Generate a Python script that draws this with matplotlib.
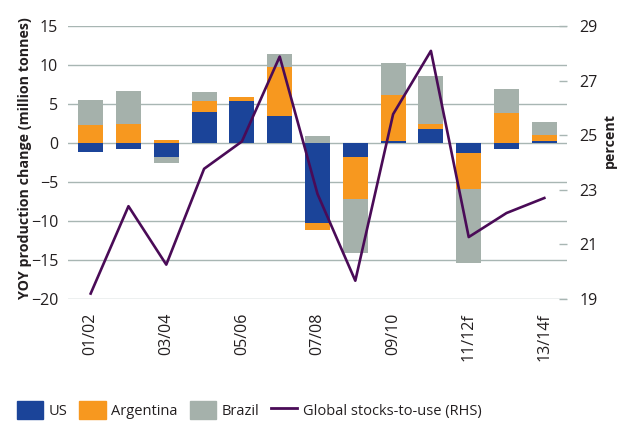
import matplotlib.pyplot as plt
from matplotlib.patches import Patch
from matplotlib.lines import Line2D
import numpy as np

plt.rcParams['font.family'] = ['Open Sans', 'DejaVu Sans']

seasons = ["01/02", "02/03", "03/04", "04/05", "05/06", "06/07", "07/08",
           "08/09", "09/10", "10/11", "11/12f", "12/13f", "13/14f"]
us = [-1.1, -0.8, -1.75, 4.0, 5.4, 3.45, -10.2, -1.85, 0.3, 1.75, -1.25, -0.8, 0.3]
argentina = [2.3, 2.5, 0.4, 1.4, 0.5, 6.3, -0.95, -5.3, 5.8, 0.65, -4.6, 3.8, 0.7]
brazil = [3.25, 4.2, -0.85, 1.2, -0.15, 1.7, 0.95, -7.0, 4.2, 6.25, -9.5, 3.1, 1.75]
stocks_to_use = [19.2, 22.4, 20.26, 23.77, 24.77, 27.88, 22.85, 19.67, 25.77, 28.09, 21.27, 22.15, 22.7]

c_us = "#1b4499"
c_arg = "#f7981f"
c_bra = "#a5b1ab"
c_line = "#4a0b57"
c_grid = "#a8b6b3"

fig = plt.figure(figsize=(6.22, 4.23), dpi=100)
ax = fig.add_axes([0.1093, 0.2931, 0.8023, 0.6454])
ax2 = ax.twinx()

x = np.arange(len(seasons))
pos_base = np.zeros(len(seasons))
neg_base = np.zeros(len(seasons))
for vals, col in [(us, c_us), (argentina, c_arg), (brazil, c_bra)]:
    vals = np.array(vals)
    base = np.where(vals >= 0, pos_base, neg_base)
    ax.bar(x, vals, width=0.66, bottom=base, color=col, zorder=3)
    pos_base = pos_base + np.where(vals >= 0, vals, 0)
    neg_base = neg_base + np.where(vals < 0, vals, 0)

ax2.plot(x, stocks_to_use, color=c_line, lw=1.9, zorder=5)

ax.set_xlim(-0.6, 12.6)
ax.set_ylim(-20, 15)
ax.set_yticks(range(-20, 16, 5))
ax.yaxis.grid(True, color=c_grid, lw=1)
ax.set_axisbelow(True)
ax.set_xticks(x[::2])
ax.set_xticklabels(seasons[::2], rotation=90, fontsize=11.5, color="#231f20")
ax.tick_params(axis='x', length=0, pad=10)
ax.tick_params(axis='y', length=0, pad=7, labelsize=11.5, labelcolor="#231f20")
ax.set_ylabel("YOY production change (million tonnes)", fontsize=10.3,
              fontweight='bold', color="#231f20")
ax.yaxis.set_label_coords(-0.072, 0.515)

ax2.set_ylim(19, 29)
ax2.set_yticks(range(19, 30, 2))
ax2.tick_params(axis='y', direction='in', length=6, width=1, color=c_grid,
                pad=9, labelsize=11.5, labelcolor="#231f20")
ax2.set_ylabel("percent", fontsize=10.3, fontweight='bold', color="#231f20")
ax2.yaxis.set_label_coords(1.072, 0.582)

for a in (ax, ax2):
    for s in a.spines.values():
        s.set_visible(False)

handles = [Patch(color=c_us, label="US"),
           Patch(color=c_arg, label="Argentina"),
           Patch(color=c_bra, label="Brazil"),
           Line2D([], [], color=c_line, lw=2, label="Global stocks-to-use (RHS)")]
fig.legend(handles=handles, loc='lower left', bbox_to_anchor=(0.006, -0.022),
           ncol=4, frameon=False, fontsize=10.5, handlelength=1.8,
           handleheight=1.5, handletextpad=0.4, columnspacing=0.8,
           labelcolor="#231f20")

fig.savefig("out.png", dpi=100)
